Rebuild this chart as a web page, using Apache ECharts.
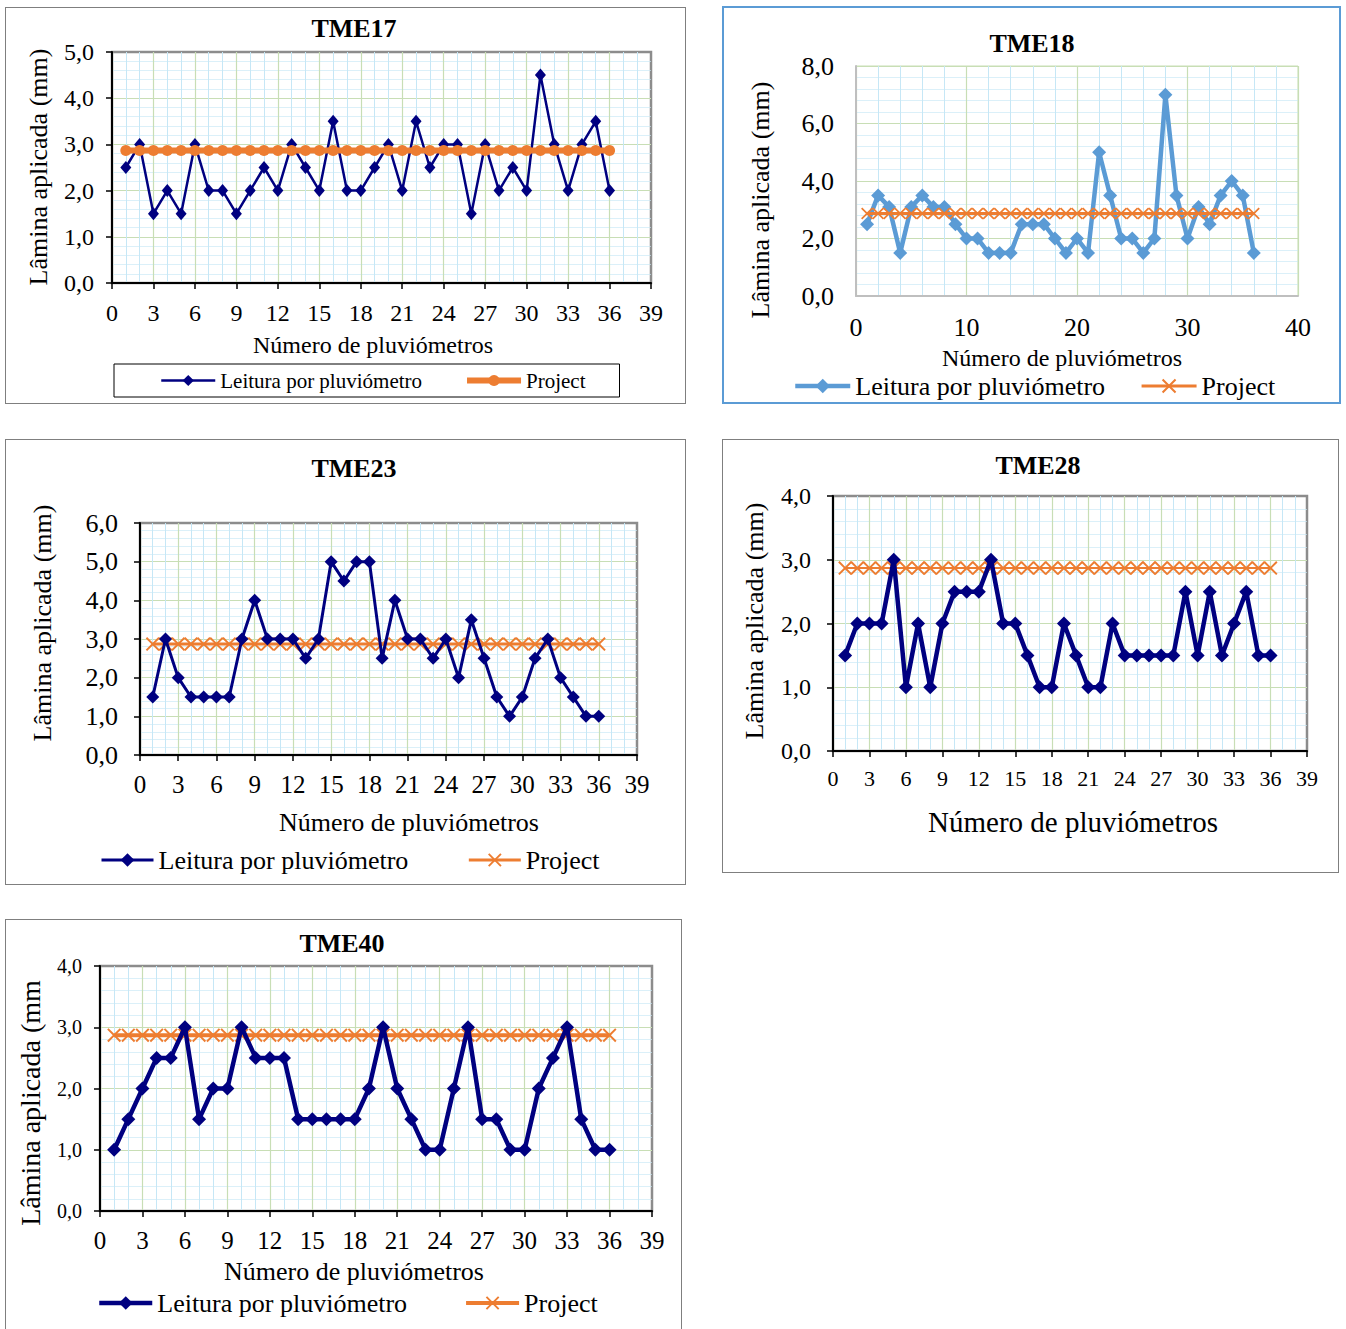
<!DOCTYPE html>
<html>
<head>
<meta charset="utf-8">
<script src="https://cdn.jsdelivr.net/npm/echarts@6/dist/echarts.min.js"></script>
<style>
  html, body { margin: 0; padding: 0; background: #fff; width: 1346px; height: 1329px; overflow: hidden; }
  .panel { position: absolute; box-sizing: border-box; background: #fff; }
</style>
</head>
<body>
<div id="c17" class="panel" style="left:5px;top:7px;width:681px;height:397px;border:1px solid #7f7f7f;"></div>
<div id="c18" class="panel" style="left:722px;top:6px;width:619px;height:398px;border:2px solid #5b9bd5;"></div>
<div id="c23" class="panel" style="left:5px;top:439px;width:681px;height:446px;border:1px solid #7f7f7f;"></div>
<div id="c28" class="panel" style="left:722px;top:439px;width:617px;height:434px;border:1px solid #7f7f7f;"></div>
<div id="c40" class="panel" style="left:5px;top:919px;width:677px;height:430px;border:1px solid #7f7f7f;"></div>
<script>
// Rain-gauge numbers (pluviómetros 1..36)
const gauges = [1, 2, 3, 4, 5, 6, 7, 8, 9, 10, 11, 12, 13, 14, 15, 16, 17, 18,
  19, 20, 21, 22, 23, 24, 25, 26, 27, 28, 29, 30, 31, 32, 33, 34, 35, 36];

// Applied depth read at each gauge (mm)
const tme17 = [2.5, 3.0, 1.5, 2.0, 1.5, 3.0, 2.0, 2.0, 1.5, 2.0, 2.5, 2.0, 3.0, 2.5, 2.0, 3.5, 2.0, 2.0,
  2.5, 3.0, 2.0, 3.5, 2.5, 3.0, 3.0, 1.5, 3.0, 2.0, 2.5, 2.0, 4.5, 3.0, 2.0, 3.0, 3.5, 2.0];
const tme18 = [2.5, 3.5, 3.1, 1.5, 3.1, 3.5, 3.1, 3.1, 2.5, 2.0, 2.0, 1.5, 1.5, 1.5, 2.5, 2.5, 2.5, 2.0,
  1.5, 2.0, 1.5, 5.0, 3.5, 2.0, 2.0, 1.5, 2.0, 7.0, 3.5, 2.0, 3.1, 2.5, 3.5, 4.0, 3.5, 1.5];
const tme23 = [1.5, 3.0, 2.0, 1.5, 1.5, 1.5, 1.5, 3.0, 4.0, 3.0, 3.0, 3.0, 2.5, 3.0, 5.0, 4.5, 5.0, 5.0,
  2.5, 4.0, 3.0, 3.0, 2.5, 3.0, 2.0, 3.5, 2.5, 1.5, 1.0, 1.5, 2.5, 3.0, 2.0, 1.5, 1.0, 1.0];
const tme28 = [1.5, 2.0, 2.0, 2.0, 3.0, 1.0, 2.0, 1.0, 2.0, 2.5, 2.5, 2.5, 3.0, 2.0, 2.0, 1.5, 1.0, 1.0,
  2.0, 1.5, 1.0, 1.0, 2.0, 1.5, 1.5, 1.5, 1.5, 1.5, 2.5, 1.5, 2.5, 1.5, 2.0, 2.5, 1.5, 1.5];
const tme40 = [1.0, 1.5, 2.0, 2.5, 2.5, 3.0, 1.5, 2.0, 2.0, 3.0, 2.5, 2.5, 2.5, 1.5, 1.5, 1.5, 1.5, 1.5,
  2.0, 3.0, 2.0, 1.5, 1.0, 1.0, 2.0, 3.0, 1.5, 1.5, 1.0, 1.0, 2.0, 2.5, 3.0, 1.5, 1.0, 1.0];

// Design (project) depth, the same at every gauge (mm)
const project = [2.87, 2.87, 2.87, 2.87, 2.87, 2.87, 2.87, 2.87, 2.87, 2.87, 2.87, 2.87,
  2.87, 2.87, 2.87, 2.87, 2.87, 2.87, 2.87, 2.87, 2.87, 2.87, 2.87, 2.87,
  2.87, 2.87, 2.87, 2.87, 2.87, 2.87, 2.87, 2.87, 2.87, 2.87, 2.87, 2.87];

// Axis ranges and steps
const xAxisGauges = { min: 0, max: 39, step: 3 };
const xAxisTens = { min: 0, max: 40, step: 10 };

const SERIF = "'Liberation Serif', 'Times New Roman', serif";
const NAVY = '#000080';
const SKY = '#5b9bd5';
const ORANGE = '#ed7d31';
const MAJOR = '#c8deb5';
const MINOR = '#c6e7f6';
const CROSS = 'path://M0,1L1,0L5,4L9,0L10,1L6,5L10,9L9,10L5,6L1,10L0,9L4,5Z';

const LEITURA = 'Leitura por pluviómetro';
const PROJECT = 'Project';

const pairs = vals => gauges.map((g, i) => [g, vals[i]]);
const comma = v => v.toFixed(1).replace('.', ',');

function build(cfg) {
  const el = document.getElementById(cfg.id);
  const r = el.getBoundingClientRect();
  const bw = cfg.bw;
  const ox = r.left + bw, oy = r.top + bw;
  const W = el.clientWidth, H = el.clientHeight;
  const chart = echarts.init(el, null, { renderer: 'svg', width: W, height: H });
  const [pl, pt, pr, pb] = cfg.plot;

  const graphic = [
    { type: 'text', x: cfg.title[0] - ox, y: cfg.title[1] - oy,
      style: { text: cfg.name, font: 'bold 26px ' + SERIF, fill: '#000', align: 'center', verticalAlign: 'middle' } },
    { type: 'text', x: cfg.yName[0] - ox, y: cfg.yName[1] - oy, rotation: Math.PI / 2,
      style: { text: cfg.yText || 'Lâmina aplicada (mm)', font: cfg.yName[2] + 'px ' + SERIF, fill: '#000', align: 'center', verticalAlign: 'middle' } },
    { type: 'text', x: cfg.xName[0] - ox, y: cfg.xName[1] - oy,
      style: { text: 'Número de pluviómetros', font: cfg.xName[2] + 'px ' + SERIF, fill: '#000', align: 'center', verticalAlign: 'middle' } }
  ];

  const plain = cfg.plain; // lighter axis look without ticks
  const xr = cfg.xRange;
  const option = {
    animation: false,
    graphic,
    grid: {
      left: pl - ox, top: pt - oy, width: pr - pl, height: pb - pt,
      show: true, backgroundColor: '#fff',
      borderColor: plain ? MAJOR : '#8c8c8c', borderWidth: plain ? 1 : 2.5
    },
    xAxis: {
      type: 'value', min: xr.min, max: xr.max, interval: xr.step,
      axisLine: { show: true, onZero: false, lineStyle: { color: plain ? '#bfbfbf' : '#000', width: 2 } },
      axisTick: { show: !plain, length: 6, lineStyle: { color: '#000', width: 1.5 } },
      axisLabel: { fontFamily: SERIF, fontSize: cfg.xLabel[0], color: '#000', margin: cfg.xLabel[1] },
      splitLine: { show: true, showMaxLine: !!plain, lineStyle: { color: MAJOR, width: 1.2 } },
      minorTick: { show: false, splitNumber: cfg.xMinor },
      minorSplitLine: { show: true, lineStyle: { color: MINOR, width: 1 } }
    },
    yAxis: {
      type: 'value', min: 0, max: cfg.yMax, interval: cfg.yStep,
      axisLine: { show: true, onZero: false, lineStyle: { color: plain ? '#bfbfbf' : '#000', width: 2 } },
      axisTick: { show: !plain, length: 6, lineStyle: { color: '#000', width: 1.5 } },
      axisLabel: { fontFamily: SERIF, fontSize: cfg.yLabel[0], color: '#000', margin: cfg.yLabel[1], formatter: comma },
      splitLine: { show: true, showMaxLine: !!plain, lineStyle: { color: MAJOR, width: 1.2 } },
      minorTick: { show: false, splitNumber: 5 },
      minorSplitLine: { show: true, lineStyle: { color: MINOR, width: 0.8, opacity: 0.8 } }
    },
    series: [
      {
        name: LEITURA, type: 'line', data: pairs(cfg.values), z: cfg.readTop ? 4 : 2,
        symbol: 'diamond', symbolSize: cfg.read.size,
        lineStyle: { color: cfg.read.color, width: cfg.read.width },
        itemStyle: { color: cfg.read.color }
      },
      {
        name: PROJECT, type: 'line', data: pairs(project), z: cfg.readTop ? 2 : 4,
        symbol: cfg.proj.symbol, symbolSize: cfg.proj.size,
        lineStyle: { color: ORANGE, width: cfg.proj.width },
        itemStyle: { color: ORANGE }
      }
    ]
  };

  if (cfg.legend) {
    const L = cfg.legend;
    option.legend = {
      data: [LEITURA, PROJECT],
      left: L.left - ox, top: L.top - oy,
      itemWidth: L.iw, itemHeight: L.ih, itemGap: L.gap,
      lineStyle: { width: L.lw || 'inherit' },
      textStyle: { fontFamily: SERIF, fontSize: L.font, color: '#000' },
      borderColor: L.border ? '#000' : 'transparent', borderWidth: L.border ? 1 : 0,
      padding: L.padding || 0,
      selectedMode: false
    };
  }
  chart.setOption(option);
}

build({
  id: 'c17', name: 'TME17', bw: 1, values: tme17, xRange: xAxisGauges, xMinor: 3,
  plot: [112, 52, 651, 283], yMax: 5, yStep: 1,
  title: [354, 28], yName: [38, 167, 26], xName: [373, 345, 24],
  xLabel: [24, 18], yLabel: [24, 18],
  read: { color: NAVY, width: 2.5, size: [11, 13] },
  proj: { symbol: 'circle', size: 11, width: 6 },
  readTop: false,
  legend: { left: 114, top: 364, iw: 54, ih: 14, gap: 42, font: 21, border: true, padding: [6, 34, 6, 46] }
});

build({
  id: 'c18', name: 'TME18', bw: 2, values: tme18, xRange: xAxisTens, xMinor: 5, plain: true,
  plot: [856, 66, 1298, 296], yMax: 8, yStep: 2,
  title: [1032, 43], yName: [760, 200, 26], xName: [1062, 358, 24],
  xLabel: [26, 18], yLabel: [26, 22],
  read: { color: SKY, width: 4.5, size: 14 },
  proj: { symbol: CROSS, size: 12, width: 3 },
  readTop: false,
  legend: { left: 793, top: 373, iw: 55, ih: 18, gap: 35, font: 26 }
});

build({
  id: 'c23', name: 'TME23', bw: 1, values: tme23, xRange: xAxisGauges, xMinor: 3,
  plot: [140, 523, 637, 755], yMax: 6, yStep: 1,
  title: [354, 468], yName: [42, 623, 26], xName: [409, 822, 26],
  xLabel: [25, 17], yLabel: [26, 22],
  read: { color: NAVY, width: 3, size: 13 },
  proj: { symbol: CROSS, size: 14, width: 3 },
  readTop: true,
  legend: { left: 100, top: 847, iw: 52, ih: 17, gap: 59, font: 26 }
});

build({
  id: 'c28', name: 'TME28', bw: 1, values: tme28, xRange: xAxisGauges, xMinor: 3,
  plot: [833, 496, 1307, 751], yMax: 4, yStep: 1,
  title: [1038, 465], yName: [754, 621, 26], xName: [1073, 822, 29],
  xLabel: [22, 16], yLabel: [24, 22],
  read: { color: NAVY, width: 4.5, size: 14 },
  proj: { symbol: CROSS, size: 14, width: 2 },
  readTop: true
});

build({
  id: 'c40', name: 'TME40', bw: 1, values: tme40, xRange: xAxisGauges, xMinor: 3,
  plot: [100, 966, 652, 1211], yMax: 4, yStep: 1,
  title: [342, 943], yName: [30, 1103, 28], yText: 'Lâmina aplicada (mm', xName: [354, 1271, 26],
  xLabel: [25, 17], yLabel: [20, 18],
  read: { color: NAVY, width: 4.5, size: 14 },
  proj: { symbol: CROSS, size: 14, width: 4 },
  readTop: true,
  legend: { left: 97, top: 1290, iw: 53, ih: 17, gap: 57, font: 26 }
});
</script>
</body>
</html>
